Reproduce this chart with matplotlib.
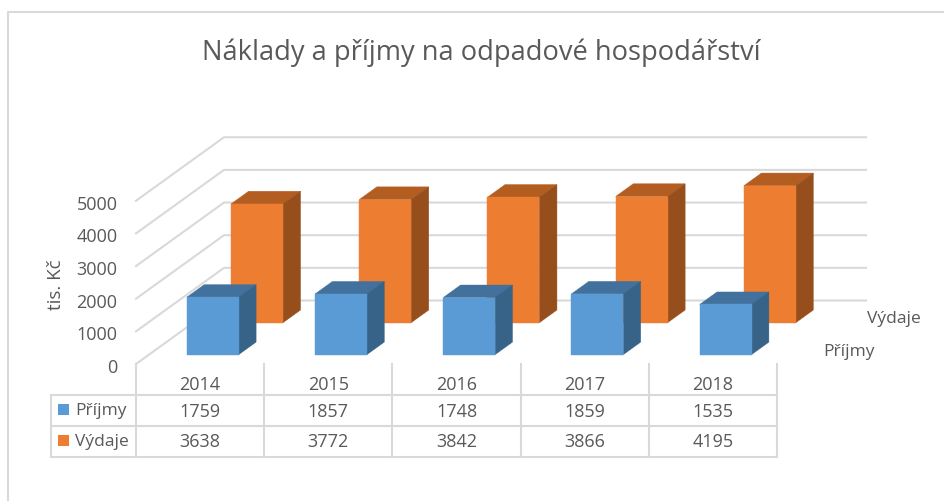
import matplotlib
matplotlib.use('Agg')
import matplotlib.pyplot as plt
from matplotlib.patches import Polygon, Rectangle

years = ['2014', '2015', '2016', '2017', '2018']
prijmy = [1759, 1857, 1748, 1859, 1535]
vydaje = [3638, 3772, 3842, 3866, 4195]
y_ticks = [0, 1000, 2000, 3000, 4000, 5000]

GRID = '#d9d9d9'
TEXT = '#595959'

# projection of the fake 3D box, all in pixels
x0, y0 = 136.0, 365.0
col_w = 128.2
k = 0.03265
dx, dy = 88.0, 63.5
x_end = 866.0


def proj(u, d, v):
    return x0 + u*col_w + d*dx, y0 - v*k - d*dy


def bar(ax, i, d1, d2, v, front, top, side):
    u1, u2 = i + 0.295, i + 0.70
    # back faces first, then the front one
    ax.add_patch(Polygon([proj(u1, d1, v), proj(u1, d2, v), proj(u2, d2, v), proj(u2, d1, v)],
                         fc=top, ec=top, lw=0.3, zorder=3))
    ax.add_patch(Polygon([proj(u2, d1, 0), proj(u2, d2, 0), proj(u2, d2, v), proj(u2, d1, v)],
                         fc=side, ec=side, lw=0.3, zorder=3))
    ax.add_patch(Polygon([proj(u1, d1, 0), proj(u2, d1, 0), proj(u2, d1, v), proj(u1, d1, v)],
                         fc=front, ec=front, lw=0.3, zorder=3))


plt.rcParams['font.family'] = ['Open Sans', 'DejaVu Sans']
fig = plt.figure(figsize=(9.44, 5.02), dpi=100)
ax = fig.add_axes([0, 0, 1, 1])
ax.set_xlim(0, 944)
ax.set_ylim(502, 0)
ax.axis('off')

# chart frame, open on the right and at the bottom
ax.plot([8, 8, 944], [502, 13, 13], color='#d9d9d9', lw=1.5)

ax.text(481.5, 53, 'Náklady a příjmy na odpadové hospodářství', fontsize=19.6,
        color=TEXT, ha='center', va='center')

# gridlines and axis labels
for t in y_ticks:
    xa, ya = proj(0, 0, t)
    xb, yb = proj(0, 1, t)
    ax.plot([xa, xb, x_end], [ya, yb, yb], color=GRID, lw=1.5, zorder=1)
    ax.text(117.5, ya + 3, str(t), fontsize=13, color=TEXT, ha='right', va='center')
ax.text(56, 285, 'tis. Kč', fontsize=13.5, color=TEXT, rotation=90, ha='center', va='center')

# orange row is behind the blue one
for i in range(len(years)):
    bar(ax, i, 0.65, 0.85, vydaje[i], '#ed7d31', '#b45d21', '#964f1c')
for i in range(len(years)):
    bar(ax, i, 0.148, 0.345, prijmy[i], '#5b9bd5', '#41719c', '#376388')

ax.text(867, 319, 'Výdaje', fontsize=12.5, color=TEXT, ha='left', va='center')
ax.text(823.5, 352, 'Příjmy', fontsize=12.5, color=TEXT, ha='left', va='center')

# data table
rows_y = [396, 427, 457.5]
x_left = 51
x_right = x0 + col_w*len(years)
for y in rows_y:
    ax.plot([x_left, x_right], [y, y], color=GRID, lw=1.5, zorder=1)
ax.plot([x_left, x_left], [rows_y[0], rows_y[2]], color=GRID, lw=1.5)
for i in range(len(years) + 1):
    xl = x0 + i*col_w
    ax.plot([xl, xl], [y0, rows_y[2]], color=GRID, lw=1.5)

for i in range(len(years)):
    xc = x0 + (i + 0.5)*col_w
    ax.text(xc, 385, years[i], fontsize=13, color=TEXT, ha='center', va='center')
    ax.text(xc, 412, str(prijmy[i]), fontsize=13, color=TEXT, ha='center', va='center')
    ax.text(xc, 442, str(vydaje[i]), fontsize=13, color=TEXT, ha='center', va='center')

ax.add_patch(Rectangle((58, 405), 11, 11, fc='#5b9bd5', ec='none'))
ax.add_patch(Rectangle((58, 436), 11, 11, fc='#ed7d31', ec='none'))
ax.text(75, 411, 'Příjmy', fontsize=12.5, color=TEXT, ha='left', va='center')
ax.text(75, 442, 'Výdaje', fontsize=12.5, color=TEXT, ha='left', va='center')

fig.savefig('out.png', dpi=100)
